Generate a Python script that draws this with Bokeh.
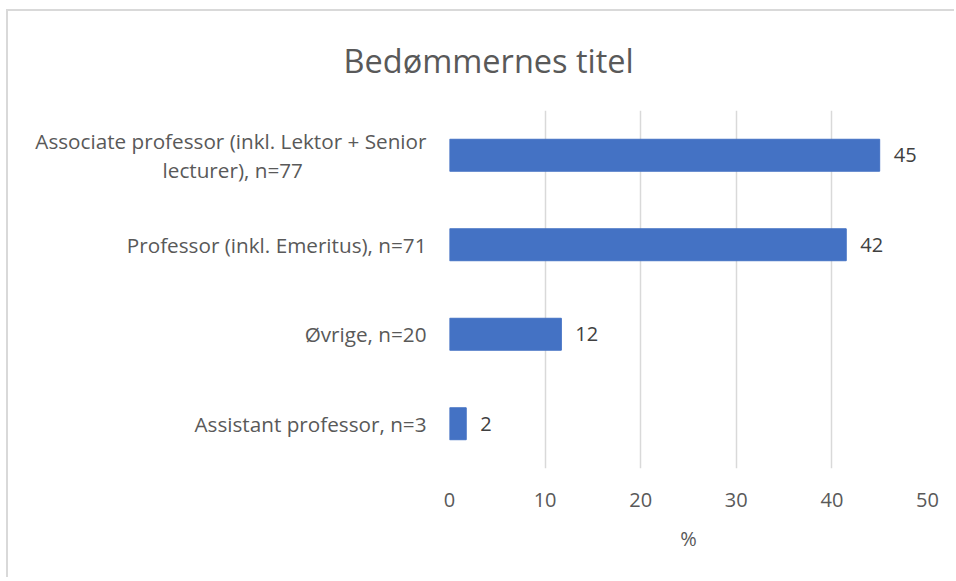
from bokeh.plotting import figure
from bokeh.models import Range1d, FactorRange, ColumnDataSource, FixedTicker, Title
from bokeh.core.properties import value
from bokeh.embed import file_html
from bokeh.resources import INLINE

title = "Bedømmernes titel"
categories = ["Associate professor (inkl. Lektor + Senior lecturer), n=77",
              "Professor (inkl. Emeritus), n=71",
              "Øvrige, n=20",
              "Assistant professor, n=3"]
values = [45.0, 41.5, 11.7, 1.75]
value_labels = ["45", "42", "12", "2"]
x_ticks = [0, 10, 20, 30, 40, 50]
x_label = "%"

FONT = "Open Sans"
BAR = "#4472C4"
GREY = "#595959"

# wrapped display text for the long category (second line centred under the first)
def wrap(c):
    if c.startswith("Associate"):
        return c.replace("Senior ", "Senior\n") + "\u00a0" * 23
    return c

display = [wrap(c) for c in categories]
factors = display[::-1]
p = figure(width=948, height=568, output_backend="svg", toolbar_location=None,
           x_range=Range1d(0, 50), y_range=FactorRange(factors=factors),
           min_border_left=441, min_border_right=29, min_border_top=99, min_border_bottom=111,
           outline_line_color=None, title=None)
p.styles = {"border-left": "2px solid #d9d9d9", "border-top": "2px solid #d9d9d9",
            "margin-left": "6px", "margin-top": "9px"}

src = ColumnDataSource(dict(cat=display, val=values, lab=value_labels))
p.hbar(y="cat", right="val", left=0, height=0.357, source=src, color=BAR, line_color=BAR)
p.text(x="val", y="cat", text="lab", source=src, x_offset=14, text_baseline="middle",
       text_font=value(FONT), text_font_size="20px", text_color="#404040")

# y axis (categories)
p.yaxis.axis_line_color = None
p.yaxis.major_tick_line_color = None
p.yaxis.minor_tick_line_color = None
p.yaxis.major_label_standoff = 17
p.yaxis.major_label_text_font = FONT
p.yaxis.major_label_text_font_size = "20.7px"
p.yaxis.major_label_text_color = GREY
p.yaxis.major_label_text_line_height = 1.02
p.ygrid.grid_line_color = None

# x axis
p.xgrid.grid_line_color = "#d9d9d9"
p.xgrid.grid_line_width = 1.5
p.xaxis.ticker = FixedTicker(ticks=x_ticks)
p.xaxis.axis_line_color = None
p.xaxis.major_tick_line_color = None
p.xaxis.minor_tick_line_color = None
p.xaxis.major_label_standoff = 18
p.xaxis.major_label_text_font = FONT
p.xaxis.major_label_text_font_size = "20px"
p.xaxis.major_label_text_color = GREY
p.xaxis.axis_label = x_label
p.xaxis.axis_label_text_font = FONT
p.xaxis.axis_label_text_font_size = "20px"
p.xaxis.axis_label_text_font_style = "normal"
p.xaxis.axis_label_text_color = GREY
p.xaxis.axis_label_standoff = 15

# title
t = Title(text=title, align="left", offset=-106, standoff=52, vertical_align="top",
          text_font=FONT, text_font_size="32.5px", text_font_style="normal", text_color=GREY)
p.add_layout(t, "above")

open("out.html", "w").write(file_html(p, INLINE))
